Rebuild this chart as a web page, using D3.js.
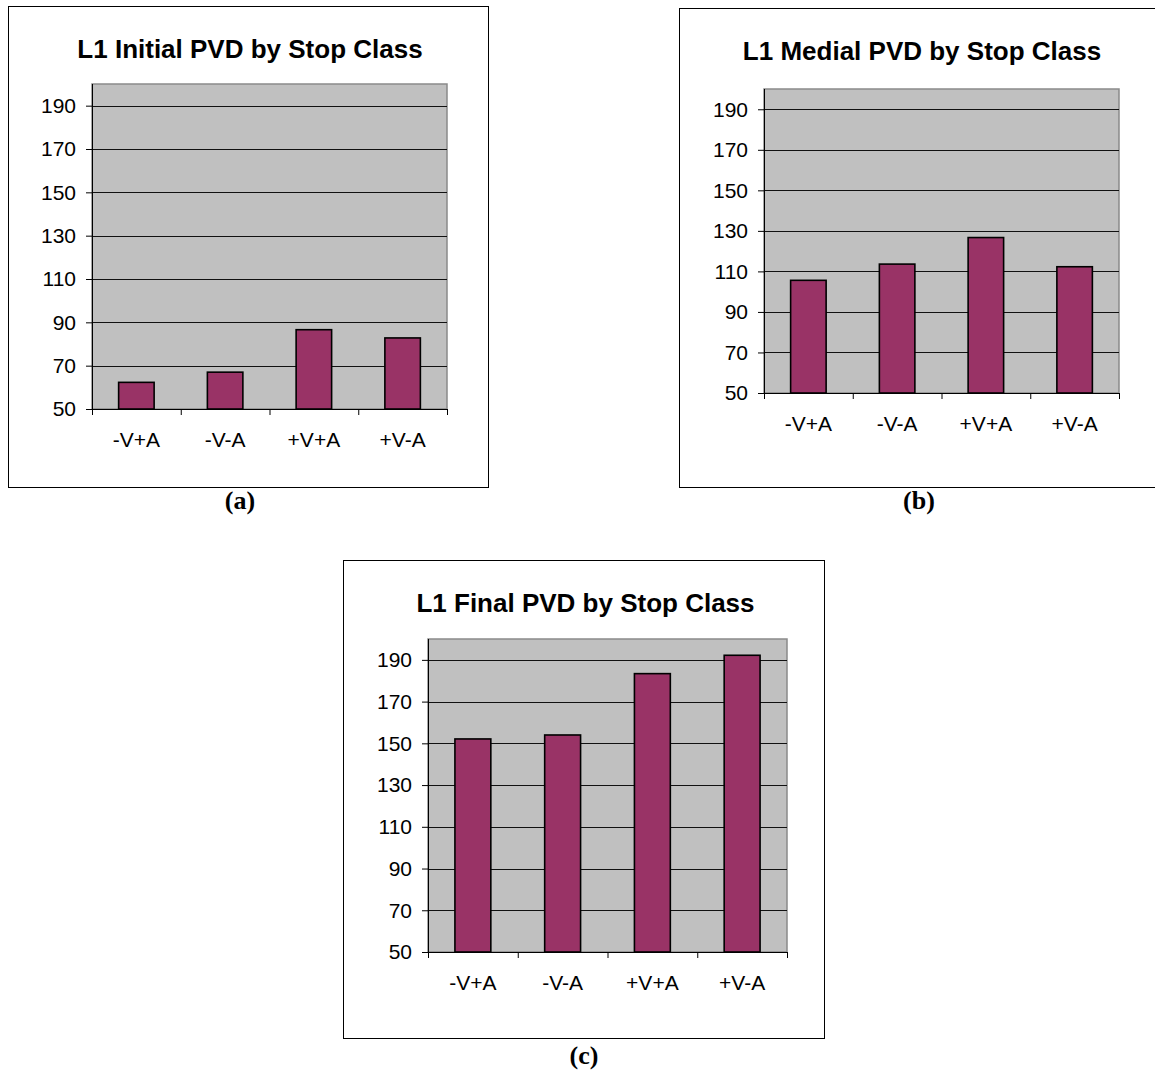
<!DOCTYPE html>
<html>
<head>
<meta charset="utf-8">
<script src="https://cdn.jsdelivr.net/npm/d3@7/dist/d3.min.js"></script>
<style>
  html, body { margin: 0; padding: 0; background: #ffffff; }
  svg { display: block; }
  .tick text { font-family: "Liberation Sans", Arial, sans-serif; }
</style>
</head>
<body>
<svg id="chart" width="1155" height="1072"></svg>
<script>
// Stop classes along the x axis
const categories = ["-V+A", "-V-A", "+V+A", "+V-A"];

// Mean PVD per stop class at each stage
const initialPVD = [62.3, 67, 86.6, 82.8];
const medialPVD  = [105.6, 113.6, 126.7, 112.3];
const finalPVD   = [152.1, 154, 183.4, 192.2];

// Shared value axis
const yDomain = [50, 200];
const yTicks = [50, 70, 90, 110, 130, 150, 170, 190];

const titles = [
  "L1 Initial PVD by Stop Class",
  "L1 Medial PVD by Stop Class",
  "L1 Final PVD by Stop Class"
];
const captions = ["(a)", "(b)", "(c)"];

// Panel frames, plot areas and caption anchors
const panels = [
  { values: initialPVD, title: titles[0], caption: captions[0],
    box: { x: 8, y: 6, w: 480, h: 481 },
    plot: { l: 92, t: 84, r: 447, b: 409 },
    cap: { x: 240, y: 509 } },
  { values: medialPVD, title: titles[1], caption: captions[1],
    box: { x: 679, y: 8, w: 482, h: 479 },
    plot: { l: 764, t: 89, r: 1119, b: 393 },
    cap: { x: 919, y: 509 } },
  { values: finalPVD, title: titles[2], caption: captions[2],
    box: { x: 343, y: 560, w: 481, h: 478 },
    plot: { l: 428, t: 639, r: 787, b: 952 },
    cap: { x: 584, y: 1064 } }
];

const svg = d3.select("#chart");
const sans = '"Liberation Sans", Arial, sans-serif';
const serif = '"Liberation Serif", "Times New Roman", serif';

panels.forEach(p => {
  const g = svg.append("g");

  // Outer chart frame
  g.append("rect")
    .attr("x", p.box.x + 0.5).attr("y", p.box.y + 0.5)
    .attr("width", p.box.w).attr("height", p.box.h)
    .attr("fill", "#ffffff").attr("stroke", "#000000").attr("stroke-width", 1);

  // Title
  g.append("text")
    .attr("x", p.box.x + p.box.w / 2 + 2)
    .attr("y", p.box.y + 52)
    .attr("text-anchor", "middle")
    .attr("font-family", sans).attr("font-weight", "bold").attr("font-size", 26)
    .attr("fill", "#000")
    .text(p.title);

  const x = d3.scaleBand().domain(categories)
    .range([p.plot.l, p.plot.r]).paddingInner(0.6).paddingOuter(0.3);
  const xEdge = d3.scaleLinear().domain([0, categories.length]).range([p.plot.l, p.plot.r]);
  const y = d3.scaleLinear().domain(yDomain).range([p.plot.b, p.plot.t]);

  // Plot area
  g.append("rect")
    .attr("x", p.plot.l).attr("y", p.plot.t)
    .attr("width", p.plot.r - p.plot.l).attr("height", p.plot.b - p.plot.t)
    .attr("fill", "#c0c0c0").attr("stroke", "#8a8a8a").attr("stroke-width", 1.5);

  // Horizontal gridlines
  g.append("g").selectAll("line")
    .data(yTicks.filter(v => v > yDomain[0]))
    .join("line")
    .attr("x1", p.plot.l).attr("x2", p.plot.r)
    .attr("y1", d => Math.round(y(d)) + 0.5).attr("y2", d => Math.round(y(d)) + 0.5)
    .attr("stroke", "#111").attr("stroke-width", 1);

  // Bars
  g.append("g").selectAll("rect")
    .data(p.values)
    .join("rect")
    .attr("x", (d, i) => x(categories[i]))
    .attr("y", d => y(d))
    .attr("width", x.bandwidth())
    .attr("height", d => y(yDomain[0]) - y(d))
    .attr("fill", "#993366").attr("stroke", "#000").attr("stroke-width", 1.6);

  // Value axis
  const yAxis = g.append("g")
    .attr("transform", `translate(${p.plot.l},0)`)
    .call(d3.axisLeft(y).tickValues(yTicks).tickSize(6).tickPadding(10).tickSizeOuter(0));
  yAxis.select(".domain").attr("d", `M0.5,${p.plot.t}V${p.plot.b}`).attr("stroke", "#000");
  yAxis.selectAll(".tick line").attr("stroke", "#000");
  yAxis.selectAll(".tick text").attr("font-size", 21).attr("fill", "#000").attr("font-family", sans);

  // Category boundary ticks and baseline
  const xAxis = g.append("g")
    .attr("transform", `translate(0,${p.plot.b})`)
    .call(d3.axisBottom(xEdge).tickValues(d3.range(categories.length + 1)).tickFormat("").tickSize(6).tickSizeOuter(0));
  xAxis.select(".domain").attr("stroke", "#000");
  xAxis.selectAll(".tick line").attr("stroke", "#000");

  // Category labels
  const xLabels = g.append("g")
    .attr("transform", `translate(0,${p.plot.b})`)
    .call(d3.axisBottom(x).tickSize(0).tickPadding(23));
  xLabels.select(".domain").remove();
  xLabels.selectAll(".tick text").attr("font-size", 21).attr("fill", "#000").attr("font-family", sans);

  // Caption below the frame
  svg.append("text")
    .attr("x", p.cap.x).attr("y", p.cap.y)
    .attr("text-anchor", "middle")
    .attr("font-family", serif).attr("font-weight", "bold").attr("font-size", 26)
    .attr("fill", "#000")
    .text(p.caption);
});
</script>
</body>
</html>
